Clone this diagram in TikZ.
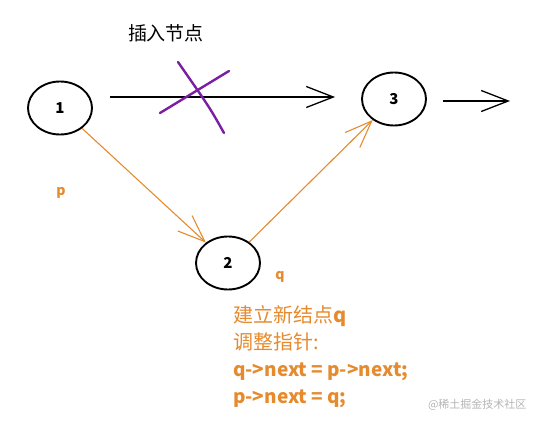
\documentclass[tikz,border=0pt]{standalone}
\usepackage{fontspec}
\usetikzlibrary{positioning, shapes.geometric, arrows.meta, calc}
\newfontfamily\cjk{Noto Sans CJK SC}
\definecolor{lkorange}{HTML}{E68A2E}
\definecolor{lkpurple}{HTML}{7A1FA2}
\definecolor{lkgray}{HTML}{B4B4B4}

\begin{document}
\begin{tikzpicture}[x=1pt, y=-1pt,
    nd/.style={draw, ellipse, line width=1.9pt, minimum width=64pt, minimum height=53pt, font=\cjk\bfseries\fontsize{15}{15}\selectfont},
    blk/.style={line width=1.3pt, -{Straight Barb[length=27pt, width=21pt]}},
    org/.style={draw=lkorange, line width=1.1pt, -{Straight Barb[length=27pt, width=21pt]}},
    lbl/.style={text=lkorange, font=\cjk\bfseries\fontsize{14}{14}\selectfont}]
  \useasboundingbox (0,0) rectangle (542,423);
  \node[font=\cjk\fontsize{19}{19}\selectfont] (title) at (166,33) {插入节点};
  \node[nd] (n1) at (60,108) {1};
  \node[nd] (n2) at (228,263) {2};
  \node[nd] (n3) at (394,99) {3};
  \coordinate (nx) at (510,101);
  \draw[blk] ($(n1.east |- n3)+(17,-2)$) -- ($(n3.west)+(-26,-2)$);
  \draw[blk] ($(n3.east)+(16,2)$) -- (nx);
  \draw[org] (n1) -- (n2);
  \draw[org] (n2) -- (n3);
  \draw[lkpurple, line width=2.4pt, line cap=round] (160,113) -- (229,71);
  \draw[lkpurple, line width=2.4pt, line cap=round] (178,62) .. controls (210,108) .. (224,133);
  \node[lbl] (p) at (61,193) {p};
  \node[lbl] (q) at (280,277) {q};
  \node[anchor=north west, align=left, text=lkorange, inner sep=0pt,
        font=\cjk\fontsize{20}{27}\selectfont] (note) at (233,305)
        {建立新结点{\bfseries q}\\调整指针:\\{\bfseries\fontsize{19}{27}\selectfont q->next = p->next;}\\{\bfseries\fontsize{19}{27}\selectfont p->next = q;}};
  \node[text=lkgray, font=\cjk\fontsize{11}{11}\selectfont, anchor=east] (wm) at (530,405) {@稀土掘金技术社区};
\end{tikzpicture}
\end{document}
